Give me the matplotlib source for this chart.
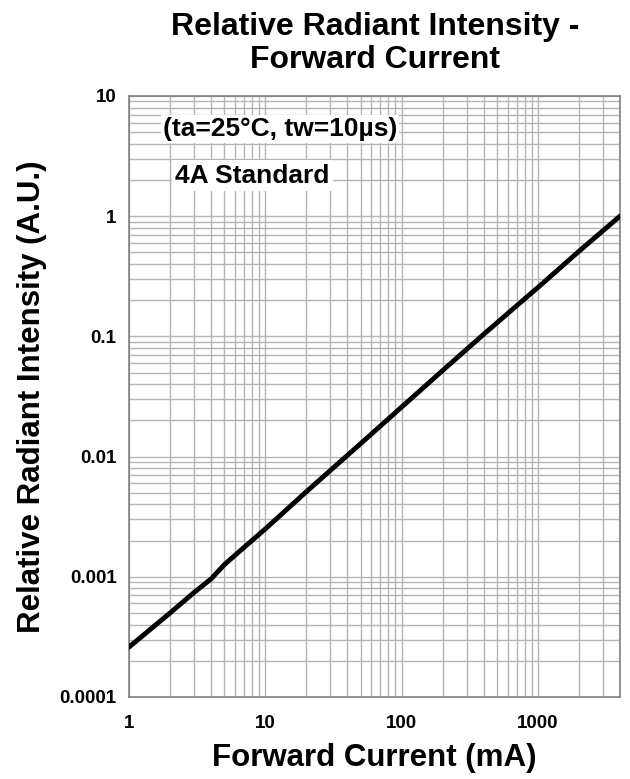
import matplotlib
matplotlib.use("Agg")
import matplotlib.pyplot as plt
from matplotlib.ticker import LogLocator, FixedLocator, NullFormatter

current_mA = [1, 2, 3, 4, 5, 7, 10, 20, 50, 100, 200, 400, 700, 1000, 2000, 4000]
intensity = [0.00026, 0.0005, 0.00074, 0.00096, 0.00126, 0.00176, 0.0025, 0.0051,
             0.0128, 0.0258, 0.052, 0.104, 0.18, 0.255, 0.51, 1.0]

x_ticks = [1, 10, 100, 1000]
x_labels = ["1", "10", "100", "1000"]
y_ticks = [0.0001, 0.001, 0.01, 0.1, 1, 10]
y_labels = ["0.0001", "0.001", "0.01", "0.1", "1", "10"]

plt.rcParams['font.family'] = ['Liberation Sans', 'DejaVu Sans']
plt.rcParams['font.weight'] = 'bold'

fig = plt.figure(figsize=(6.3, 7.79), dpi=100)
ax = fig.add_axes([0.2048, 0.1053, 0.7792, 0.7715])
ax.set_xscale('log')
ax.set_yscale('log')
ax.set_xlim(1, 4000)
ax.set_ylim(0.0001, 10)

ax.plot(current_mA, intensity, color='black', lw=3.5, solid_capstyle='round', zorder=3)

ax.xaxis.set_major_locator(FixedLocator(x_ticks))
ax.set_xticklabels(x_labels)
ax.yaxis.set_major_locator(FixedLocator(y_ticks))
ax.set_yticklabels(y_labels)
ax.xaxis.set_minor_locator(LogLocator(base=10, subs=range(2, 10), numticks=20))
ax.yaxis.set_minor_locator(LogLocator(base=10, subs=range(2, 10), numticks=20))
ax.xaxis.set_minor_formatter(NullFormatter())
ax.yaxis.set_minor_formatter(NullFormatter())
ax.grid(True, which='both', color='#b4b4b4', lw=1.0)
ax.set_axisbelow(True)
ax.tick_params(which='both', length=0)
ax.tick_params(axis='x', labelsize=13.5, pad=13)
ax.tick_params(axis='y', labelsize=13.5, pad=9)
for lab in ax.get_xticklabels() + ax.get_yticklabels():
    lab.set_fontweight('bold')
for s in ax.spines.values():
    s.set_color('#808080')
    s.set_linewidth(1.2)

ax.set_xlabel("Forward Current (mA)", fontsize=22.5, fontweight='bold', labelpad=8)
ax.set_ylabel("Relative Radiant Intensity (A.U.)", fontsize=22.5, fontweight='bold', labelpad=9)
fig.text(0.595, 0.944, "Relative Radiant Intensity -\nForward Current", ha='center', va='center',
         fontsize=23, fontweight='bold', linespacing=1.12)

ax.text(0.069, 0.945, "(ta=25°C, tw=10µs)", transform=ax.transAxes, fontsize=19, fontweight='bold',
        ha='left', va='center', bbox=dict(facecolor='white', edgecolor='none', pad=1.5))
ax.text(0.094, 0.867, "4A Standard", transform=ax.transAxes, fontsize=19, fontweight='bold',
        ha='left', va='center', bbox=dict(facecolor='white', edgecolor='none', pad=2.5))

fig.savefig("out.png", dpi=100)
